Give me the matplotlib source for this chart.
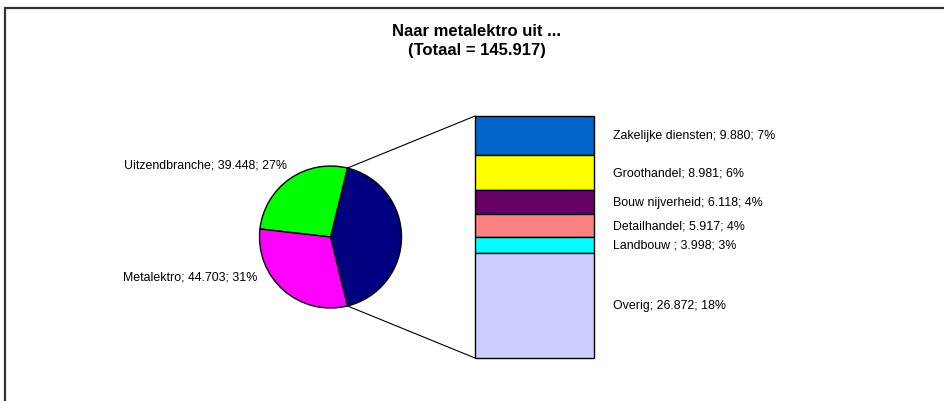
import matplotlib
matplotlib.use("Agg")
import matplotlib.pyplot as plt
from matplotlib.patches import ConnectionPatch, Rectangle
import numpy as np

plt.rcParams["font.family"] = ["Liberation Sans", "DejaVu Sans"]

# pie: the "rest" slice is split out into the bar
pie_names = ["Uitzendbranche", "Metalektro"]
pie_values = [39448, 44703]
pie_colors = ["#00FF00", "#FF00FF"]
rest_color = "#000080"

# bar, top to bottom
bar_names = ["Zakelijke diensten", "Groothandel", "Bouw nijverheid",
             "Detailhandel", "Landbouw ", "Overig"]
bar_values = [9880, 8981, 6118, 5917, 3998, 26872]
bar_colors = ["#0066CC", "#FFFF00", "#660066", "#FF8080", "#00FFFF", "#CCCCFF"]

rest = sum(bar_values)
total = sum(pie_values) + rest


def fmt(v):
    return f"{v:,}".replace(",", ".")


def label(name, v):
    return f"{name}; {fmt(v)}; {round(100 * v / total)}%"


W, H = 945, 402
fig = plt.figure(figsize=(W / 100, H / 100), dpi=100)


def px(x0, y0, w, h):
    # pixel box (top-left origin) -> figure fraction
    return [x0 / W, 1 - (y0 + h) / H, w / W, h / H]


# outer frame, runs off the right and bottom edge
fig.patches.append(Rectangle((5 / W, -0.1), 1.2, 1 - 9 / H + 0.1,
                             transform=fig.transFigure, fill=False,
                             edgecolor="#333333", linewidth=1.6))

fig.text(477 / W, 1 - 32 / H, "Naar metalektro uit ...", ha="center", va="center",
         fontsize=12, fontweight="bold")
fig.text(477 / W, 1 - 51 / H, f"(Totaal = {fmt(total)})", ha="center", va="center",
         fontsize=12, fontweight="bold")

# pie
r_px = 71
cx, cy = 330.5, 238
pad = 80
ax_pie = fig.add_axes(px(cx - pad, cy - pad, 2 * pad, 2 * pad))
rest_angle = 360 * rest / total
start = -rest_angle / 2
wedges, _ = ax_pie.pie([rest] + pie_values, colors=[rest_color] + pie_colors,
                       startangle=start, radius=1,
                       wedgeprops=dict(edgecolor="black", linewidth=1))
ax_pie.set_xlim(-pad / r_px, pad / r_px)
ax_pie.set_ylim(-pad / r_px, pad / r_px)
ax_pie.axis("off")

# bar
ax_bar = fig.add_axes(px(475, 117, 119, 242))
bottoms = np.cumsum([0] + bar_values[::-1])[:-1][::-1]
bars = ax_bar.bar(0, bar_values, bottom=bottoms, width=1, color=bar_colors,
                  edgecolor="black", linewidth=1)
for b in bars:
    b.set_clip_on(False)
ax_bar.set_xlim(-0.5, 0.5)
ax_bar.set_ylim(0, rest)
ax_bar.axis("off")

for name, v, b in zip(bar_names, bar_values, bottoms):
    ax_bar.text(1.16, b + v / 2, label(name, v), transform=ax_bar.get_yaxis_transform(),
                ha="left", va="center", fontsize=8.9)

# connector lines from the rest slice edges to bar corners
for ang, ybar in [(start + rest_angle, rest), (start, 0)]:
    t = np.deg2rad(ang)
    con = ConnectionPatch(xyA=(np.cos(t), np.sin(t)), coordsA=ax_pie.transData,
                          xyB=(-0.5, ybar), coordsB=ax_bar.transData,
                          color="black", linewidth=0.8)
    fig.add_artist(con)

# pie labels
fig.text(287 / W, 1 - 166 / H, label(pie_names[0], pie_values[0]),
         ha="right", va="center", fontsize=8.9)
fig.text(257 / W, 1 - 278 / H, label(pie_names[1], pie_values[1]),
         ha="right", va="center", fontsize=8.9)

fig.savefig("out.png", dpi=100)
